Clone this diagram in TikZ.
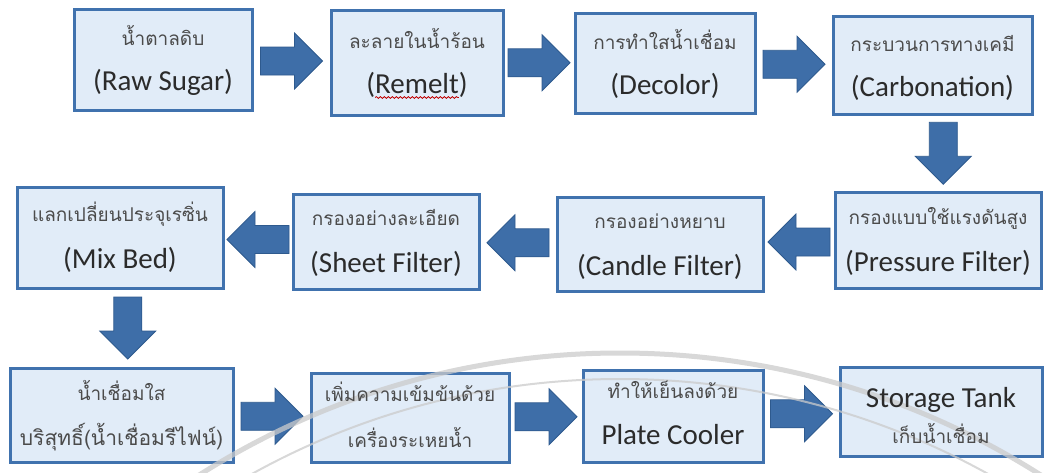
\documentclass[tikz,border=0pt]{standalone}
\usepackage{fontspec}
\setmainfont{Carlito}
\newfontfamily\thaifont[Script=Thai]{Loma}
\usetikzlibrary{calc,decorations.pathmorphing}

\definecolor{boxfill}{HTML}{E1ECF8}
\definecolor{boxline}{HTML}{4072AE}
\definecolor{arrowfill}{HTML}{3E6EA8}
\definecolor{arrowline}{HTML}{2E5A8E}
\definecolor{inkgrey}{HTML}{2B2B2B}
\definecolor{sealgrey}{HTML}{CBCBCB}

\tikzset{
  stage/.style={draw=boxline, line width=3pt, fill=boxfill, inner sep=0pt},
  en/.style={font=\fontsize{29}{34}\selectfont, text=inkgrey, anchor=base, inner sep=0pt},
  th/.style={font=\thaifont\fontsize{19}{24}\selectfont, text=inkgrey!85, anchor=base, inner sep=0pt},
  thbig/.style={th, font=\thaifont\fontsize{21}{26}\selectfont},
  flow/.pic={\draw[fill=arrowfill, draw=arrowline, line width=0.8pt, line join=miter]
      (-31,-14) -- (3,-14) -- (3,-28) -- (31,0) -- (3,28) -- (3,14) -- (-31,14) -- cycle;},
  seal/.style={draw=sealgrey, opacity=0.75},
  typo/.style={draw=red!75!black, line width=0.8pt,
      decorate, decoration={snake, amplitude=0.9pt, segment length=4pt}},
}

\begin{document}
\begin{tikzpicture}[x=1pt, y=-1pt]
\fill[white] (0,0) rectangle (1063,472);
\useasboundingbox (0,0) rectangle (1063,472);

% process stages
\node[stage, minimum width=178pt, minimum height=101pt] (b1)  at (163,59.5)  {};
\node[stage, minimum width=172pt, minimum height=105pt] (b2)  at (417,62.5)  {};
\node[stage, minimum width=180pt, minimum height=100pt] (b3)  at (665,63)    {};
\node[stage, minimum width=199pt, minimum height=98pt]  (b4)  at (932.5,65.5){};
\node[stage, minimum width=206pt, minimum height=96pt]  (b5)  at (938,240)   {};
\node[stage, minimum width=206pt, minimum height=94pt]  (b6)  at (660,244)   {};
\node[stage, minimum width=186pt, minimum height=95pt]  (b7)  at (386,241.5) {};
\node[stage, minimum width=206pt, minimum height=101pt] (b8)  at (120,237.5) {};
\node[stage, minimum width=223pt, minimum height=94pt]  (b9)  at (121.5,415) {};
\node[stage, minimum width=198pt, minimum height=89pt]  (b10) at (410,417.5) {};
\node[stage, minimum width=180pt, minimum height=92pt]  (b11) at (673,416)   {};
\node[stage, minimum width=202pt, minimum height=89pt]  (b12) at (941,411.5) {};

% block arrows between the stages
\pic at ($(b1.east)!0.5!(b2.west)$) {flow};
\pic at ($(b2.east)!0.5!(b3.west)$) {flow};
\pic at ($(b3.east)!0.5!(b4.west)$) {flow};
\pic[rotate=-90] at ($(b4.south)!0.5!(b5.north)+(8,0)$) {flow};
\pic[rotate=180] at ($(b5.west)!0.5!(b6.east)$) {flow};
\pic[rotate=180] at ($(b6.west)!0.5!(b7.east)$) {flow};
\pic[rotate=180] at ($(b7.west)!0.5!(b8.east)$) {flow};
\pic[rotate=-90] at ($(b8.south)!0.5!(b9.north)+(7,0)$) {flow};
\pic at ($(b9.east)!0.5!(b10.west)$) {flow};
\pic at ($(b10.east)!0.5!(b11.west)$) {flow};
\pic at ($(b11.east)!0.5!(b12.west)$) {flow};

% faint seal in the background
\begin{scope}
  \clip (0,0) rectangle (1063,472);
  \draw[seal, line width=5pt] (620,1139) circle[radius=786pt];
  \draw[seal, line width=2pt] (620,1139) circle[radius=760pt];
\end{scope}

% labels
\node[th] (t1) at ($(b1.center)+(0,-14)$) {น้ำตาลดิบ};
\node[en] (e1) at ($(b1.center)+(0,31)$) {(Raw Sugar)};
\node[th] (t2) at ($(b2.center)+(0,-14)$) {ละลายในน้ำร้อน};
\node[en] (e2) at ($(b2.center)+(0,31)$) {(Remelt)};
\node[th] (t3) at ($(b3.center)+(0,-14)$) {การทำใสน้ำเชื่อม};
\node[en] (e3) at ($(b3.center)+(0,31)$) {(Decolor)};
\node[th] (t4) at ($(b4.center)+(0,-14)$) {กระบวนการทางเคมี};
\node[en] (e4) at ($(b4.center)+(0,31)$) {(Carbonation)};
\node[th] (t5) at ($(b5.center)+(0,-16)$) {กรองแบบใช้แรงดันสูง};
\node[en] (e5) at ($(b5.center)+(0,31)$) {(Pressure Filter)};
\node[th] (t6) at ($(b6.center)+(0,-16)$) {กรองอย่างหยาบ};
\node[en] (e6) at ($(b6.center)+(0,31)$) {(Candle Filter)};
\node[th] (t7) at ($(b7.center)+(0,-16)$) {กรองอย่างละเอียด};
\node[en] (e7) at ($(b7.center)+(0,31)$) {(Sheet Filter)};
\node[th] (t8) at ($(b8.center)+(0,-16)$) {แลกเปลี่ยนประจุเรซิ่น};
\node[en] (e8) at ($(b8.center)+(0,31)$) {(Mix Bed)};
\node[th] (t9) at ($(b9.center)+(0,-15)$) {น้ำเชื่อมใส};
\node[thbig] (u9) at ($(b9.center)+(0,30)$) {บริสุทธิ์(น้ำเชื่อมรีไฟน์)};
\node[th] (t10) at ($(b10.center)+(0,-16)$) {เพิ่มความเข้มข้นด้วย};
\node[th] (u10) at ($(b10.center)+(0,30)$) {เครื่องระเหยน้ำ};
\node[th] (t11) at ($(b11.center)+(0,-18)$) {ทำให้เย็นลงด้วย};
\node[en] (e11) at ($(b11.center)+(0,28)$) {Plate Cooler};
\node[en] (e12) at ($(b12.center)+(0,-4)$) {Storage Tank};
\node[th] (u12) at ($(b12.center)+(0,32)$) {เก็บน้ำเชื่อม};

% spell-check squiggle under the word Remelt
\draw[typo] ([xshift=9pt,yshift=-4pt]e2.base west) -- ([xshift=-9pt,yshift=-4pt]e2.base east);
\end{tikzpicture}
\end{document}
